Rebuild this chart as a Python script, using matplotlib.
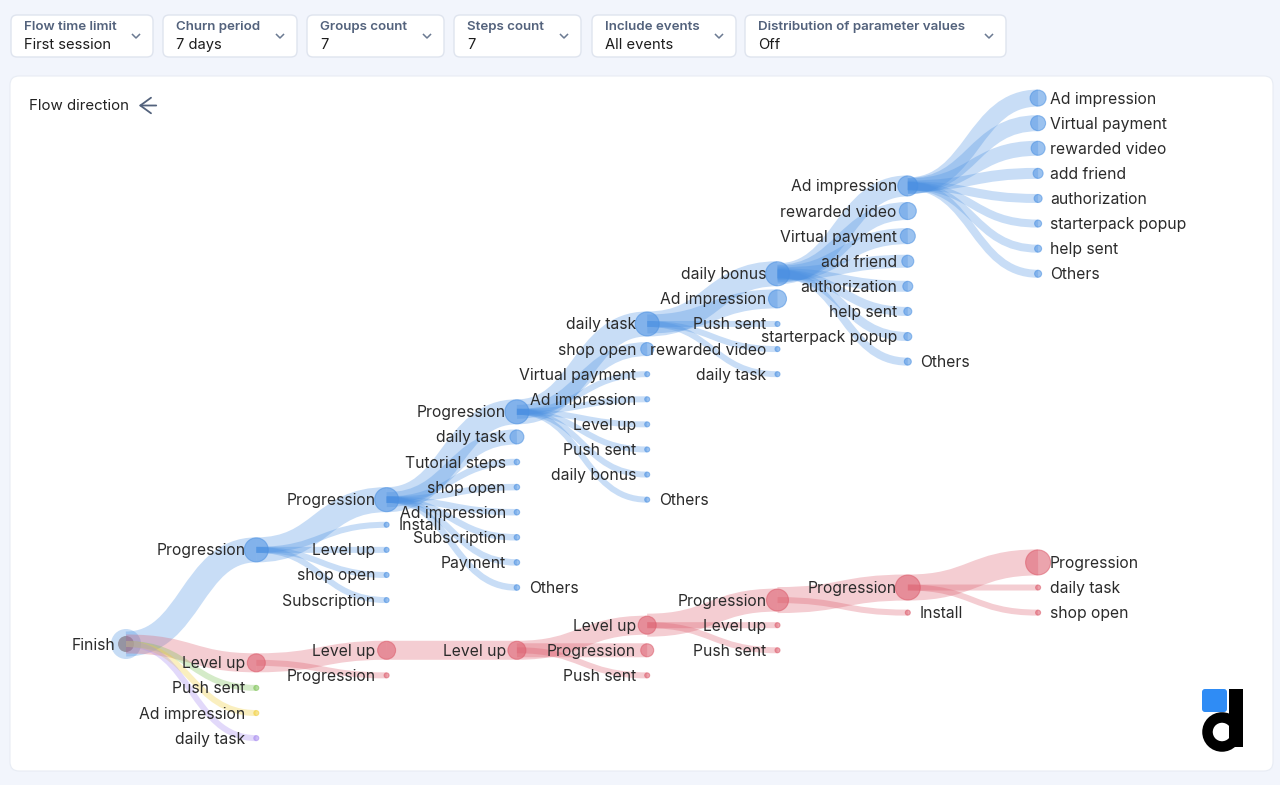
import numpy as np
import matplotlib.pyplot as plt
from matplotlib.patches import FancyBboxPatch, Circle, PathPatch, Rectangle
from matplotlib.path import Path

plt.rcParams['font.family'] = ['Inter', 'DejaVu Sans']

# Filter bar
filter_titles = ['Flow time limit', 'Churn period', 'Groups count', 'Steps count',
                 'Include events', 'Distribution of parameter values']
filter_values = ['First session', '7 days', '7', '7', 'All events', 'Off']

# Flow tree: label, parent index, share of users
labels = [
    'Finish',
    # step 1
    'Progression', 'Level up', 'Push sent', 'Ad impression', 'daily task',
    # step 2
    'Progression', 'Install', 'Level up', 'shop open', 'Subscription',
    'Level up', 'Progression',
    # step 3
    'Progression', 'daily task', 'Tutorial steps', 'shop open', 'Ad impression',
    'Subscription', 'Payment', 'Others',
    'Level up',
    # step 4
    'daily task', 'shop open', 'Virtual payment', 'Ad impression', 'Level up',
    'Push sent', 'daily bonus', 'Others',
    'Level up', 'Progression', 'Push sent',
    # step 5
    'daily bonus', 'Ad impression', 'Push sent', 'rewarded video', 'daily task',
    'Progression', 'Level up', 'Push sent',
    # step 6
    'Ad impression', 'rewarded video', 'Virtual payment', 'add friend',
    'authorization', 'help sent', 'starterpack popup', 'Others',
    'Progression', 'Install',
    # step 7
    'Ad impression', 'Virtual payment', 'rewarded video', 'add friend',
    'authorization', 'starterpack popup', 'help sent', 'Others',
    'Progression', 'daily task', 'shop open',
]
parents = [
    -1,
    0, 0, 0, 0, 0,
    1, 1, 1, 1, 1,
    2, 2,
    6, 6, 6, 6, 6, 6, 6, 6,
    11,
    13, 13, 13, 13, 13, 13, 13, 13,
    21, 21, 21,
    22, 22, 22, 22, 22,
    30, 30, 30,
    33, 33, 33, 33, 33, 33, 33, 33,
    38, 38,
    41, 41, 41, 41, 41, 41, 41, 41,
    49, 49, 49,
]
shares = [
    60,
    48, 36, 7, 7, 7,
    48, 8, 8, 8, 8,
    36, 8,
    48, 28, 11, 11, 11, 11, 11, 11,
    36,
    48, 26, 10, 10, 10, 10, 10, 10,
    36, 26, 8,
    48, 36, 8, 8, 8,
    44, 8, 8,
    40, 34, 30, 24, 20, 16, 16, 14,
    50, 8,
    32, 30, 28, 20, 16, 14, 14, 14,
    50, 8, 8,
]

# branch colour of each first-step group
branch_colors = ['#4a90e2', '#dc5a6a', '#7cc254', '#f2cf3a', '#a68af0']
root_rows = [-3.75, 0.75, 1.75, 2.75, 3.75]   # slot of the first-step groups

# layout
X0, DX = 126, 130.3
Y0, DY = 644, 25.1

n = len(labels)
depth = [0] * n
row = [0.0] * n
branch = [0] * n
children = {i: [] for i in range(n)}
for i, p in enumerate(parents):
    if p >= 0:
        children[p].append(i)
for p in range(n):
    kids = children[p]
    for k, c in enumerate(kids):
        depth[c] = depth[p] + 1
        if p == 0:
            row[c] = root_rows[k]
            branch[c] = k
        else:
            row[c] = row[p] + k - (len(kids) - 1) / 2
            branch[c] = branch[p]

xs = np.array([X0 + d * DX for d in depth])
ys = np.array([Y0 + r * DY for r in row])
radius = np.clip(np.array(shares) / 4.0, 2.5, 12.5)

fig = plt.figure(figsize=(12.8, 7.85), dpi=100)
fig.patch.set_facecolor('#f2f5fc')
ax = fig.add_axes([0, 0, 1, 1])
ax.set_xlim(0, 1280)
ax.set_ylim(785, 0)
ax.axis('off')

# filter boxes
box_lefts = [11, 163, 307, 454, 592, 745]
box_rights = [153, 297, 444, 581, 736, 1006]
for t, v, l, r in zip(filter_titles, filter_values, box_lefts, box_rights):
    ax.add_patch(FancyBboxPatch((l, 15), r - l, 42, boxstyle='round,pad=0,rounding_size=6',
                                fc='white', ec='#dfe4ee', lw=1))
    ax.text(l + 13, 27, t, fontsize=9.6, color='#53627c', fontweight='semibold', va='center')
    ax.text(l + 13, 45, v, fontsize=10.6, color='#1c1c1c', va='center')
    cx = r - 17
    ax.plot([cx - 3.5, cx, cx + 3.5], [34.5, 38, 34.5], color='#6b7a92', lw=1.1)

# main panel
ax.add_patch(FancyBboxPatch((10, 76), 1263, 695, boxstyle='round,pad=0,rounding_size=9',
                            fc='white', ec='#e8ecf4', lw=0.8))
ax.text(29, 106, 'Flow direction', fontsize=10.8, color='#222222', va='center')
ax.annotate('', xy=(136, 105.5), xytext=(159, 105.5),
            arrowprops=dict(arrowstyle='->,head_length=0.55,head_width=0.4', lw=1.3,
                            color='#53627c', mutation_scale=14))

# root node under the bands
ax.add_patch(Circle((xs[0], ys[0]), 15, fc='#c6dcf5', ec='none', zorder=2))
ax.add_patch(Circle((xs[0], ys[0]), 8, fc='#8d8894', ec='none', alpha=0.85, zorder=2))

# bands
for c in range(1, n):
    p = parents[c]
    x0, y0, x1, y1 = xs[p], ys[p], xs[c], ys[c]
    mx = (x0 + x1) / 2
    path = Path([(x0, y0), (mx, y0), (mx, y1), (x1, y1)],
                [Path.MOVETO, Path.CURVE4, Path.CURVE4, Path.CURVE4])
    w = 2 * radius[c] + 1
    ax.add_patch(PathPatch(path, fill=False, lw=w * 0.72, ec=branch_colors[branch[c]],
                           alpha=0.3 if branch[c] < 2 else 0.32, capstyle='butt', zorder=3))

# nodes
for c in range(1, n):
    col = branch_colors[branch[c]]
    ax.add_patch(Circle((xs[c], ys[c]), radius[c], fc=col, ec=col, lw=0.8,
                        alpha=0.55, zorder=4))

# labels
for c in range(n):
    right = depth[c] == 7 or labels[c] in ('Others', 'Install')
    if right:
        ax.text(xs[c] + 12, ys[c] + 1, labels[c], fontsize=11.3, color='#2b2b2b',
                ha='left', va='center', zorder=5)
    else:
        ax.text(xs[c] - 11, ys[c] + 1, labels[c], fontsize=11.3, color='#2b2b2b',
                ha='right', va='center', zorder=5)

# logo
ax.add_patch(FancyBboxPatch((1202, 689), 25, 23, boxstyle='round,pad=0,rounding_size=3',
                            fc='#2f8cf5', ec='none', zorder=6))
ax.add_patch(Rectangle((1229, 689), 14, 58, fc='black', ec='none', zorder=6))
ax.add_patch(Circle((1222, 732), 14.5, fill=False, ec='black', lw=10.5 * 0.72, zorder=6))

plt.savefig('out.png', dpi=100, facecolor=fig.get_facecolor())
